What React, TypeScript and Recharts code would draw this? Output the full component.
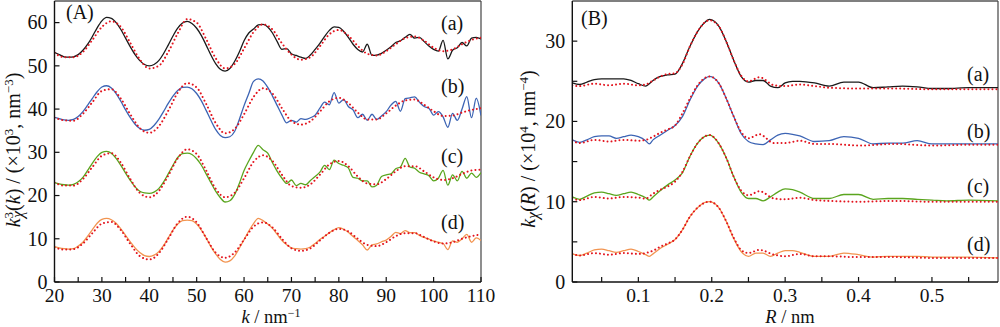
import { LineChart, Line, XAxis, YAxis, ReferenceLine, Customized } from 'recharts'

// ---- panel A: k^3 chi(k) ----
const kGrid = [
  20, 21, 22, 23, 24, 25, 26, 27, 28, 29, 30, 31, 32, 33, 34, 35, 36, 37, 38, 39,
  40, 41, 42, 43, 44, 45, 46, 47, 48, 49, 50, 51, 52, 53, 54, 55, 56, 57, 58, 59,
  60, 61, 62, 63, 64, 65, 66, 67, 68, 69, 70, 71, 72, 73, 74, 75, 76, 77, 78, 79,
  80, 81, 82, 83, 84, 85, 86, 87, 88, 89, 90, 91, 92, 93, 94, 95, 96, 97, 98, 99,
  100, 101, 102, 103, 104, 105, 106, 107, 108, 109, 110,
]
const kFit = [
  20, 22, 24, 26, 28, 30, 32, 34, 36, 38, 40, 42, 44, 46, 48, 50, 52, 54, 56, 58,
  60, 62, 64, 66, 68, 70, 72, 74, 76, 78, 80, 82, 84, 86, 88, 90, 92, 94, 96, 98,
  100, 102, 104, 106, 108, 110,
]

const chiA = [
  53.1, 52.6, 52.1, 52.0, 52.1, 52.6, 53.6, 55.0, 56.8, 58.8, 60.4, 61.2, 61.0, 60.0, 58.4, 56.4, 54.4, 52.6, 51.2, 50.3,
  50.0, 50.3, 51.2, 52.8, 54.8, 56.9, 58.7, 59.9, 60.3, 59.8, 58.7, 57.0, 54.8, 52.5, 50.5, 49.2, 48.8, 49.4, 51.0, 53.2,
  55.8, 57.6, 58.5, 59.5, 59.6, 59.0, 57.6, 55.6, 53.8, 54.0, 52.8, 52.4, 52.0, 51.7, 52.5, 53.8, 55.2, 56.8, 58.2, 59.0,
  58.9, 58.0, 56.6, 55.0, 53.8, 53.2, 55.0, 52.4, 52.5, 52.9, 53.6, 54.4, 55.4, 55.8, 56.6, 57.3, 56.4, 56.6, 55.6, 54.6,
  53.8, 53.4, 55.9, 51.6, 53.6, 54.2, 55.4, 54.6, 56.4, 56.6, 56.2,
]
const chiB = [
  38.1, 37.8, 37.5, 37.4, 37.6, 38.3, 39.4, 40.9, 42.5, 44.0, 45.1, 45.4, 44.9, 43.6, 41.8, 39.8, 38.0, 36.5, 35.5, 35.1,
  35.3, 36.2, 37.6, 39.4, 41.3, 43.0, 44.3, 45.0, 45.1, 44.7, 43.6, 41.9, 39.7, 37.4, 35.3, 33.9, 33.4, 33.6, 34.8, 37.6,
  40.8, 43.6, 46.4, 47.0, 46.5, 45.0, 43.0, 40.8, 38.6, 36.8, 37.4, 37.0, 37.8, 37.6, 38.0, 38.6, 40.2, 41.6, 41.0, 43.8,
  41.4, 42.2, 40.6, 39.8, 38.0, 38.8, 37.4, 38.8, 37.6, 38.4, 39.4, 40.9, 41.8, 39.5, 42.4, 42.6, 42.8, 41.6, 40.6, 40.2,
  38.6, 39.4, 38.2, 35.8, 39.0, 37.4, 40.0, 42.9, 38.0, 42.5, 38.5,
]
const chiC = [
  23.0, 22.7, 22.5, 22.4, 22.6, 23.2, 24.2, 25.8, 27.5, 29.0, 30.0, 30.2, 29.8, 28.6, 27.0, 25.2, 23.5, 22.0, 21.0, 20.6,
  20.5, 20.8, 21.6, 23.1, 25.0, 27.0, 28.8, 29.7, 29.8, 29.5, 28.5, 27.0, 25.0, 23.0, 21.0, 19.5, 18.5, 18.8, 20.2, 22.8,
  25.8, 28.0, 30.0, 31.6, 30.6, 29.8, 27.6, 25.6, 24.0, 22.8, 23.6, 22.3, 22.8, 22.5, 23.5, 24.4, 25.4, 27.0, 26.0, 28.2,
  27.4, 27.0, 26.4, 24.2, 24.0, 23.4, 23.4, 22.0, 22.4, 24.4, 24.8, 25.0, 26.2, 26.6, 28.6, 26.6, 26.3, 25.4, 25.0, 24.6,
  23.4, 24.0, 25.8, 22.4, 24.8, 23.4, 25.6, 24.0, 25.2, 24.2, 25.3,
]
const chiD = [
  8.2, 7.9, 7.7, 7.6, 7.7, 8.3, 9.2, 10.6, 12.1, 13.6, 14.5, 14.7, 14.4, 13.6, 12.3, 10.8, 9.3, 7.9, 6.8, 6.1,
  5.9, 6.2, 7.0, 8.4, 10.2, 12.0, 13.4, 14.2, 14.3, 14.2, 13.4, 12.0, 10.2, 8.2, 6.5, 5.2, 4.6, 4.9, 6.0, 7.8,
  9.8, 11.8, 13.5, 14.7, 14.2, 13.4, 12.4, 11.0, 9.6, 8.6, 7.9, 7.7, 7.6, 7.7, 8.1, 8.9, 9.8, 10.6, 11.4, 12.1,
  12.6, 12.2, 11.5, 10.5, 9.6, 8.6, 7.4, 8.6, 8.8, 9.3, 9.7, 10.5, 11.5, 11.2, 11.9, 11.4, 11.4, 10.8, 10.3, 9.9,
  9.5, 9.2, 8.9, 7.5, 9.5, 9.2, 10.0, 11.0, 9.2, 10.2, 9.6,
]
const fitA = [
  53.0, 52.0, 52.0, 53.2, 56.0, 59.0, 60.3, 59.0, 55.3, 51.5, 49.4, 50.0, 53.2, 57.5, 60.8, 60.0, 56.2, 51.8, 49.4, 50.4,
  54.0, 57.8, 59.6, 58.4, 55.2, 52.6, 51.4, 52.0, 54.5, 57.3, 58.3, 57.0, 54.6, 52.8, 52.4, 53.4, 55.0, 56.4, 56.8, 55.8,
  54.2, 53.4, 53.8, 55.0, 56.0, 56.5,
]
const fitB = [
  38.0, 37.4, 37.3, 38.9, 41.6, 44.2, 44.6, 42.4, 38.8, 35.6, 34.5, 36.0, 39.6, 43.8, 46.0, 45.0, 41.2, 36.8, 34.4, 35.4,
  38.8, 42.8, 44.8, 43.6, 40.2, 37.2, 36.4, 37.2, 39.4, 41.8, 42.6, 41.4, 39.2, 37.6, 37.6, 39.0, 40.8, 42.0, 42.2, 41.0,
  39.5, 38.4, 38.5, 39.2, 39.8, 40.2,
]
const fitC = [
  23.0, 22.3, 22.3, 23.8, 26.6, 29.2, 29.8, 27.6, 23.8, 20.6, 19.6, 21.0, 24.6, 28.6, 30.7, 29.6, 25.8, 21.6, 19.6, 20.6,
  24.0, 27.8, 29.3, 28.0, 24.8, 22.2, 21.8, 22.6, 24.8, 27.2, 28.0, 26.8, 24.4, 22.8, 22.6, 23.8, 25.6, 26.8, 26.8, 25.6,
  24.2, 23.6, 24.0, 25.0, 25.8, 26.0,
]
const fitD = [
  8.0, 7.5, 7.6, 8.9, 11.3, 13.5, 13.9, 12.0, 8.8, 6.0, 5.2, 6.6, 10.0, 13.6, 15.1, 13.8, 10.2, 6.8, 5.6, 6.8,
  9.8, 12.8, 13.8, 12.6, 10.0, 7.8, 7.2, 7.8, 9.6, 11.4, 12.3, 11.7, 10.0, 8.6, 8.3, 9.2, 10.6, 11.3, 11.3, 10.4,
  9.4, 8.9, 9.2, 10.0, 10.6, 11.0,
]
const kTicks = [20, 25, 30, 35, 40, 45, 50, 55, 60, 65, 70, 75, 80, 85, 90, 95, 100, 105, 110]
const chiTicks = [0, 5, 10, 15, 20, 25, 30, 35, 40, 45, 50, 55, 60]

// ---- panel B: k chi(R) ----
const rGrid = [
  0.01, 0.02, 0.03, 0.04, 0.05, 0.06, 0.07, 0.08, 0.09, 0.10, 0.11, 0.115, 0.12, 0.13, 0.14, 0.15, 0.16, 0.17, 0.18, 0.19,
  0.197, 0.21, 0.22, 0.23, 0.24, 0.25, 0.26, 0.27, 0.28, 0.29, 0.30, 0.31, 0.32, 0.34, 0.36, 0.38, 0.40, 0.42, 0.44, 0.46,
  0.48, 0.50, 0.52, 0.55, 0.59,
]
const rFit = [
  0.01, 0.02, 0.04, 0.06, 0.08, 0.10, 0.11, 0.12, 0.13, 0.14, 0.15, 0.16, 0.17, 0.18, 0.197, 0.21, 0.22, 0.23, 0.24, 0.25,
  0.265, 0.285, 0.30, 0.32, 0.34, 0.36, 0.40, 0.45, 0.50, 0.55, 0.59,
]
const ftA = [
  24.8, 24.6, 24.9, 25.2, 25.3, 25.3, 25.3, 25.3, 25.1, 24.7, 24.4, 24.7, 25.1, 25.6, 25.8, 25.9, 27.2, 29.3, 31.1, 32.3,
  32.7, 31.8, 29.9, 27.6, 25.6, 24.9, 25.1, 25.1, 24.4, 24.2, 24.8, 25.0, 25.0, 24.8, 24.4, 24.9, 24.9, 24.2, 24.3, 24.4,
  24.3, 24.1, 24.1, 24.2, 24.2,
]
const ftB = [
  17.7, 17.4, 17.7, 18.1, 18.2, 18.2, 17.9, 18.1, 18.3, 18.1, 17.6, 17.2, 17.7, 18.3, 18.9, 19.5, 20.6, 22.6, 24.3, 25.3,
  25.6, 24.7, 22.8, 20.6, 18.5, 17.5, 17.2, 17.1, 17.7, 18.3, 18.5, 18.4, 18.2, 17.5, 17.6, 18.1, 17.9, 17.2, 17.3, 17.3,
  17.6, 17.2, 17.2, 17.2, 17.2,
]
const ftC = [
  10.6, 10.3, 10.7, 11.1, 11.2, 11.0, 10.8, 11.0, 11.2, 10.9, 10.5, 10.2, 10.6, 11.4, 12.1, 12.7, 13.6, 15.6, 17.2, 18.1,
  18.3, 17.2, 15.4, 13.1, 11.2, 10.4, 10.4, 10.1, 10.6, 11.2, 11.6, 11.5, 11.2, 10.4, 10.4, 10.9, 10.9, 10.3, 10.4, 10.4,
  10.3, 10.2, 10.1, 10.2, 10.1,
]
const ftD = [
  3.5, 3.3, 3.6, 4.0, 4.1, 3.9, 3.7, 3.9, 4.1, 3.8, 3.4, 3.2, 3.5, 4.2, 4.7, 5.3, 6.5, 8.1, 9.2, 9.9,
  10.0, 9.2, 7.5, 5.4, 3.8, 3.2, 3.6, 3.6, 3.2, 3.6, 3.9, 3.9, 3.7, 3.2, 3.2, 3.6, 3.4, 3.1, 3.2, 3.2,
  3.2, 3.1, 3.1, 3.1, 3.0,
]
const ftFitA = [
  24.5, 24.4, 24.7, 24.5, 24.7, 24.5, 24.6, 25.1, 25.6, 25.9, 26.0, 27.1, 29.3, 31.1, 32.6, 31.8, 29.9, 27.6, 25.7, 25.0,
  25.5, 24.5, 24.4, 24.6, 24.4, 24.2, 24.1, 24.1, 24.0, 24.0, 24.0,
]
const ftFitB = [
  17.6, 17.3, 17.7, 17.5, 17.7, 17.6, 17.7, 18.1, 18.6, 19.0, 19.5, 21.0, 22.8, 24.4, 25.6, 24.7, 22.8, 20.6, 18.7, 17.9,
  18.4, 17.3, 17.3, 17.6, 17.2, 17.2, 17.0, 17.2, 17.0, 17.1, 17.1,
]
const ftFitC = [
  10.4, 10.2, 10.6, 10.4, 10.6, 10.5, 10.4, 11.0, 11.5, 11.9, 12.5, 13.7, 15.6, 17.2, 18.3, 17.2, 15.4, 13.1, 11.4, 10.8,
  11.3, 10.4, 10.3, 10.5, 10.2, 10.1, 10.0, 10.1, 10.0, 10.0, 10.0,
]
const ftFitD = [
  3.5, 3.3, 3.6, 3.4, 3.6, 3.5, 3.6, 3.9, 4.4, 4.8, 5.3, 6.5, 8.1, 9.2, 10.0, 9.2, 7.5, 5.5, 4.0, 3.6,
  4.0, 3.4, 3.2, 3.5, 3.2, 3.2, 3.1, 3.1, 3.0, 3.0, 3.0,
]
const rTicks = [0.05, 0.1, 0.15, 0.2, 0.25, 0.3, 0.35, 0.4, 0.45, 0.5, 0.55]
const ftTicks = [0, 5, 10, 15, 20, 25, 30]

const COLORS = ['#1a1a1a', '#3c64b4', '#5aa51e', '#f29450']
const FIT = '#e3141e'
const FONT = 'Liberation Serif'
const INK = '#111'
const FS = 20

const pts = (xs: number[], ys: number[]) => xs.map((x, i) => ({ x, y: ys[i] }))

const isMajor = (v: number, step: number) => Math.abs(v / step - Math.round(v / step)) < 1e-6

function yTick(step: number) {
  return (props: any) => {
    const { x, y, payload } = props
    const v = payload.value
    return (
      <g>
        <line x1={x} y1={y} x2={x + 5} y2={y} stroke={INK} strokeWidth={1.2} />
        {isMajor(v, step) && (
          <text x={x - 7} y={y} dy="0.34em" textAnchor="end" fontFamily={FONT} fontSize={FS} fill={INK}>
            {v}
          </text>
        )}
      </g>
    )
  }
}

function xTick(step: number, fmt: (v: number) => string) {
  return (props: any) => {
    const { x, y, payload } = props
    const v = payload.value
    return (
      <g>
        <line x1={x} y1={y} x2={x} y2={y - 5} stroke={INK} strokeWidth={1.2} />
        {isMajor(v, step) && (
          <text x={x} y={y + 20} textAnchor="middle" fontFamily={FONT} fontSize={19.5} fill={INK}>
            {fmt(v)}
          </text>
        )}
      </g>
    )
  }
}

const txt = { fontFamily: FONT, fontSize: FS, fill: INK }
const ttl = { fontFamily: FONT, fontSize: 18.5, fill: INK }

function OverlayA() {
  return (
    <g>
      <text x={66} y={18.5} {...txt}>(A)</text>
      <text x={441} y={29.5} {...txt}>(a)</text>
      <text x={441} y={92.5} {...txt}>(b)</text>
      <text x={441} y={162.5} {...txt}>(c)</text>
      <text x={441} y={229} {...txt}>(d)</text>
      <text x={271} y={323} textAnchor="middle" {...ttl}>
        <tspan fontStyle="italic">k</tspan> / nm<tspan dy={-6} fontSize={12}>−1</tspan>
      </text>
      <text transform="translate(20,150) rotate(-90)" textAnchor="middle" {...txt}>
        <tspan fontStyle="italic">k</tspan>
        <tspan dy={-7} fontSize={13}>3</tspan>
        <tspan dx={-6} dy={10} fontStyle="italic" fontSize={16}>χ</tspan>
        <tspan dy={-3}>(</tspan>
        <tspan fontStyle="italic">k</tspan>
        <tspan>) / (×10</tspan>
        <tspan dy={-7} fontSize={13}>3</tspan>
        <tspan dy={7}>, nm</tspan>
        <tspan dy={-7} fontSize={13}>−3</tspan>
        <tspan dy={7}>)</tspan>
      </text>
    </g>
  )
}

function OverlayB() {
  return (
    <g>
      <text x={81} y={25} {...txt}>(B)</text>
      <text x={467} y={81} {...txt}>(a)</text>
      <text x={467} y={137.5} {...txt}>(b)</text>
      <text x={467} y={192.5} {...txt}>(c)</text>
      <text x={467} y={251} {...txt}>(d)</text>
      <text x={290} y={323} textAnchor="middle" {...ttl}>
        <tspan fontStyle="italic">R</tspan> / nm
      </text>
      <text transform="translate(35,149) rotate(-90)" textAnchor="middle" {...txt}>
        <tspan fontStyle="italic">k</tspan>
        <tspan dy={3} fontStyle="italic" fontSize={16}>χ</tspan>
        <tspan dy={-3}>(</tspan>
        <tspan fontStyle="italic">R</tspan>
        <tspan>) / (×10</tspan>
        <tspan dy={-7} fontSize={13}>4</tspan>
        <tspan dy={7}>, nm</tspan>
        <tspan dy={-7} fontSize={13}>−4</tspan>
        <tspan dy={7}>)</tspan>
      </text>
    </g>
  )
}

const solidProps = { type: 'monotone' as const, dataKey: 'y', dot: false, strokeWidth: 1.3, isAnimationActive: false }
const fitProps = {
  type: 'monotone' as const,
  dataKey: 'y',
  dot: false,
  stroke: FIT,
  strokeWidth: 2,
  strokeDasharray: '0.01 4',
  strokeLinecap: 'round' as const,
  isAnimationActive: false,
}
const axisLine = { stroke: INK, strokeWidth: 1.4 }

export default function App() {
  const solidA = [chiA, chiB, chiC, chiD]
  const fitsA = [fitA, fitB, fitC, fitD]
  const solidB = [ftA, ftB, ftC, ftD]
  const fitsB = [ftFitA, ftFitB, ftFitC, ftFitD]
  return (
    <div style={{ position: 'absolute', left: 0, top: 0, width: 1000, height: 327, display: 'flex', background: '#fff' }}>
      <LineChart width={500} height={327} margin={{ top: 1, right: 19, left: 0, bottom: 0 }}>
        <XAxis
          dataKey="x"
          type="number"
          domain={[20, 110]}
          ticks={kTicks}
          allowDataOverflow
          height={45}
          tickSize={0}
          tickMargin={0}
          tickLine={false}
          axisLine={axisLine}
          tick={xTick(10, v => String(v))}
        />
        <YAxis
          type="number"
          domain={[0, 65]}
          ticks={chiTicks}
          allowDataOverflow
          width={54.5}
          tickSize={0}
          tickMargin={0}
          tickLine={false}
          axisLine={axisLine}
          tick={yTick(10)}
        />
        <ReferenceLine y={65} stroke="#555" strokeWidth={1.6} />
        <ReferenceLine x={110} stroke="#444" strokeWidth={1.2} />
        {solidA.map((ys, i) => (
          <Line key={'s' + i} {...solidProps} data={pts(kGrid, ys)} stroke={COLORS[i]} />
        ))}
        {fitsA.map((ys, i) => (
          <Line key={'f' + i} {...fitProps} data={pts(kFit, ys)} />
        ))}
        <Customized component={OverlayA} />
      </LineChart>
      <LineChart width={500} height={327} margin={{ top: 1, right: 2, left: 0, bottom: 0 }}>
        <XAxis
          dataKey="x"
          type="number"
          domain={[0.01, 0.59]}
          ticks={rTicks}
          allowDataOverflow
          height={45}
          tickSize={0}
          tickMargin={0}
          tickLine={false}
          axisLine={axisLine}
          tick={xTick(0.1, v => v.toFixed(1))}
        />
        <YAxis
          type="number"
          domain={[0, 35]}
          ticks={ftTicks}
          allowDataOverflow
          width={72.3}
          tickSize={0}
          tickMargin={0}
          tickLine={false}
          axisLine={axisLine}
          tick={yTick(10)}
        />
        <ReferenceLine y={35} stroke="#555" strokeWidth={1.6} />
        <ReferenceLine x={0.59} stroke="#444" strokeWidth={1.2} />
        {solidB.map((ys, i) => (
          <Line key={'s' + i} {...solidProps} data={pts(rGrid, ys)} stroke={COLORS[i]} />
        ))}
        {fitsB.map((ys, i) => (
          <Line key={'f' + i} {...fitProps} data={pts(rFit, ys)} />
        ))}
        <Customized component={OverlayB} />
      </LineChart>
    </div>
  )
}
